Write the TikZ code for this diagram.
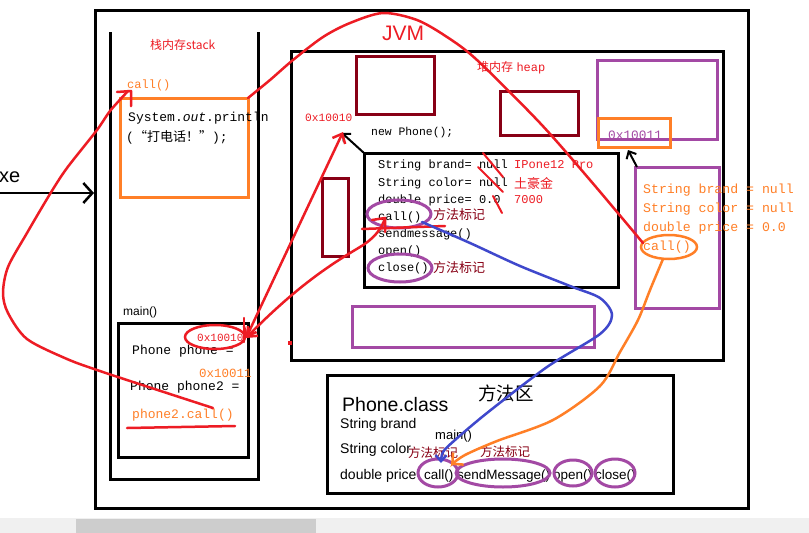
\documentclass[tikz,border=0pt]{standalone}
\usepackage{fontspec}
\setmainfont{Liberation Sans}
\newfontfamily\cjkf{Noto Sans CJK SC}
\newfontfamily\monof{Liberation Mono}
\usetikzlibrary{arrows.meta}
\definecolor{pred}{HTML}{ED1C24}
\definecolor{porange}{HTML}{FF7F27}
\definecolor{ppurple}{HTML}{A349A4}
\definecolor{pdred}{HTML}{880015}
\definecolor{pblue}{HTML}{3F48CC}
\definecolor{sbar}{HTML}{F0F0F0}
\definecolor{sthumb}{HTML}{CDCDCD}
\newcommand\fsz[1]{\fontsize{#1}{#1}\selectfont}
\begin{document}
\begin{tikzpicture}[x=1pt,y=-1pt,
  lbl/.style={inner sep=0pt, anchor=west},
  code/.style={lbl, font=\monof\fsz{12}},
  blk/.style={draw=black, line width=3pt},
  drbox/.style={draw=pdred, line width=3pt},
  pbox/.style={draw=ppurple, line width=3pt},
  obox/.style={draw=porange, line width=3pt},
  rline/.style={draw=pred, line width=2.5pt, line cap=round, line join=round},
  oline/.style={draw=porange, line width=2.5pt, line cap=round},
  bline/.style={draw=pblue, line width=2.5pt, line cap=round},
  methmark/.style={lbl, font=\cjkf\fsz{13}, text=pdred}
]
\useasboundingbox (0,0) rectangle (809,533);
\fill[white] (0,0) rectangle (809,533);
% scrollbar
\fill[sbar] (0,518) rectangle (809,533);
\fill[sthumb] (76,519) rectangle (316,533);

% outer JVM box
\draw[blk] (95,10) rectangle (748,508);
\node[lbl, font=\fsz{21}, text=pred] (jvm) at (382,33) {JVM};

% stack
\draw[blk] (110,32) -- (110,479) -- (258,479) -- (258,32);
\node[lbl, font=\cjkf\fsz{12}, text=pred] (stk) at (150,45) {栈内存stack};
\node[code, text=porange] (scall) at (127,85) {call()};
\draw[obox] (120,98) rectangle (248,197);
\node[lbl, font=\monof\fsz{13}] (sys) at (128,118) {System.\textit{out}.println};
\node[lbl, font=\monof\fsz{13}] (say) at (126,137) {({\cjkf “打电话！”});};
\node[lbl, font=\fsz{12}] (mainl) at (123,312) {main()};
\draw[blk] (118,323) rectangle (248,457);
\node[lbl, font=\monof\fsz{13}] (pp) at (132,351) {Phone phone =};
\node[lbl, font=\monof\fsz{13}] (pp2) at (130,387) {Phone phone2 =};
\node[lbl, font=\monof\fsz{13}, text=porange] (p2c) at (132,415) {phone2.call()};
\node[lbl, font=\monof\fsz{11}, text=pred] (ad1) at (197,338) {0x10010};
\draw[pred, line width=2.5pt] (215,337) ellipse [x radius=30pt, y radius=12pt];
\node[lbl, font=\monof\fsz{12.5}, text=porange] (ad2) at (199,373) {0x10011};

% heap
\draw[blk] (291,51) rectangle (723,360);
\node[lbl, font=\fsz{12}, text=pred] (heapl) at (477,68) {{\cjkf 堆内存} {\monof heap}};
\draw[drbox] (356,56) rectangle (434,114);
\draw[drbox] (500,91) rectangle (578,135);
\draw[drbox] (322,178) rectangle (348,256);
\draw[pbox] (352,306) rectangle (594,347);
\draw[pbox] (597,60) rectangle (717,139);
\node[lbl, font=\monof\fsz{12.8}, text=ppurple] (oad) at (608,135) {0x10011};
\draw[obox] (598,118) rectangle (670,147);
\draw[pbox] (635,167) rectangle (719,308);
\node[lbl, font=\monof\fsz{11.2}, text=pred] (had) at (305,118) {0x10010};
\node[lbl, font=\monof\fsz{11.4}] (newp) at (371,133) {new Phone();};

% object
\draw[blk] (364,153) rectangle (618,287);
\node[code] (o1) at (378,165) {String brand= null};
\node[code] (o2) at (378,183) {String color= null};
\node[code] (o3) at (378,200) {double price= 0.0};
\node[code] (o4) at (378,217) {call()};
\node[code] (o5) at (378,234) {sendmessage()};
\node[code] (o6) at (378,251) {open()};
\node[code] (o7) at (378,268) {close()};
\node[code, text=pred] (v1) at (514,165) {IPone12 Pro};
\node[lbl, font=\cjkf\fsz{13}, text=pred] (v2) at (514,183) {土豪金};
\node[code, text=pred] (v3) at (514,200) {7000};
\node[methmark] (m1) at (433,215) {方法标记};
\node[methmark] (m2) at (433,268) {方法标记};
\draw[ppurple, line width=3pt] (399,214) ellipse [x radius=32pt, y radius=14pt];
\draw[ppurple, line width=3pt] (400,268) ellipse [x radius=32pt, y radius=14pt];
\draw[rline, line width=2pt] (483,153) -- (503,177);
\draw[rline, line width=2pt] (478,167) -- (503,192);
\draw[rline, line width=2pt] (493,196) -- (502,213);

% right object fields
\node[lbl, font=\monof\fsz{13.2}, text=porange] (r1) at (643,190) {String brand = null};
\node[lbl, font=\monof\fsz{13.2}, text=porange] (r2) at (643,209) {String color = null};
\node[lbl, font=\monof\fsz{13.2}, text=porange] (r3) at (643,228) {double price = 0.0};
\node[lbl, font=\monof\fsz{13.2}, text=porange] (r4) at (643,247) {call()};
\draw[porange, line width=2.5pt] (669,247) ellipse [x radius=28pt, y radius=12pt];

% method area
\draw[blk] (327,375) rectangle (673,493);
\node[lbl, font=\cjkf\fsz{18.5}] (ma) at (478,393) {方法区};
\node[lbl, font=\fsz{19.5}] (pc) at (342,405) {Phone.class};
\node[lbl, font=\fsz{14}] (f1) at (340,425) {String brand};
\node[lbl, font=\fsz{14}] (f2) at (340,450) {String color};
\node[lbl, font=\fsz{14}] (f3) at (340,476) {double price};
\node[lbl, font=\fsz{13}] (mm) at (435,436) {main()};
\node[lbl, font=\cjkf\fsz{12.5}, text=pdred] (mk1) at (408,453) {方法标记};
\node[lbl, font=\cjkf\fsz{12.5}, text=pdred] (mk2) at (480,452) {方法标记};
\node[lbl, font=\fsz{13.5}] (c1) at (424,476) {call()};
\node[lbl, font=\fsz{13.5}] (c2) at (457,476) {sendMessage()};
\node[lbl, font=\fsz{13.5}] (c3) at (553,476) {open()};
\node[lbl, font=\fsz{13.5}] (c4) at (595,476) {close()};
\draw[ppurple, line width=3pt] (438,473) ellipse [x radius=20pt, y radius=14pt];
\draw[ppurple, line width=3pt] (503,473) ellipse [x radius=47pt, y radius=14pt];
\draw[ppurple, line width=3pt] (573,473) ellipse [x radius=19pt, y radius=13pt];
\draw[ppurple, line width=3pt] (615,473) ellipse [x radius=20pt, y radius=14pt];

% xe arrow
\node[lbl, font=\fsz{20}] (xe) at (-1,177) {xe};
\coordinate (xs) at (0,193);
\coordinate (xt) at (94,193);
\draw[line width=2.5pt, -{Straight Barb[length=9pt,width=20pt]}] (xs) -- (xt);

% black small arrows
\coordinate (k1s) at (637,167); \coordinate (k1t) at (628,150);
\draw[line width=2pt, -{Straight Barb[length=6pt,width=11pt]}] (k1s) -- (k1t);
\coordinate (k2s) at (364,153); \coordinate (k2t) at (342,133);
\draw[line width=2pt, -{Straight Barb[length=6pt,width=11pt]}] (k2s) -- (k2t);

% red connectors
\coordinate (ra) at (246,338);
\coordinate (rb) at (343,132);
\draw[rline, {Straight Barb[length=8pt,width=14pt]}-{Straight Barb[length=8pt,width=14pt]}] (ra) -- (rb);
\coordinate (rc) at (385,218);
\draw[rline, {Straight Barb[length=8pt,width=14pt]}-] (ra) .. controls (300,283) and (335,262) .. (360,247) .. controls (375,238) and (382,228) .. (rc);
\draw[rline] (372,220) -- (rc) -- (385,232);
\draw[rline] (362,229) -- (445,226);
\draw[rline] (244,318) -- (244,342);
\fill[pred] (288,341) rectangle (292,345);
% big left curve
\draw[rline] plot[smooth] coordinates {(213,408) (130,381) (97,370) (67,359) (27,339) (8,313) (3,293) (8,267) (27,233) (50,194) (67,168) (97,130) (110,111) (128,91)};
\draw[rline] (117,92) -- (131,91) -- (131,106);
\draw[rline] (127,428) -- (235,426);
% top arc
\draw[rline] plot[smooth] coordinates {(248,98) (270,80) (293,60) (323,37) (350,23) (383,13) (417,20) (447,37) (477,60) (540,123) (590,180) (643,243)};

% blue connector
\coordinate (bs) at (422,222);
\coordinate (bt) at (441,463);
\draw[bline, -{Straight Barb[length=6pt,width=11pt]}] plot[smooth] coordinates {(bs) (470,243) (520,266) (570,286) (600,298) (612,315) (600,334) (547,367) (487,413) (455,440) (443,452) (bt)};

% orange connector
\coordinate (os) at (663,259);
\coordinate (ot) at (451,465);
\draw[oline, -{Straight Barb[length=8pt,width=16pt]}] plot[smooth] coordinates {(os) (650,290) (638,320) (620,352) (600,386) (553,420) (497,441) (465,455) (ot)};
\end{tikzpicture}
\end{document}
